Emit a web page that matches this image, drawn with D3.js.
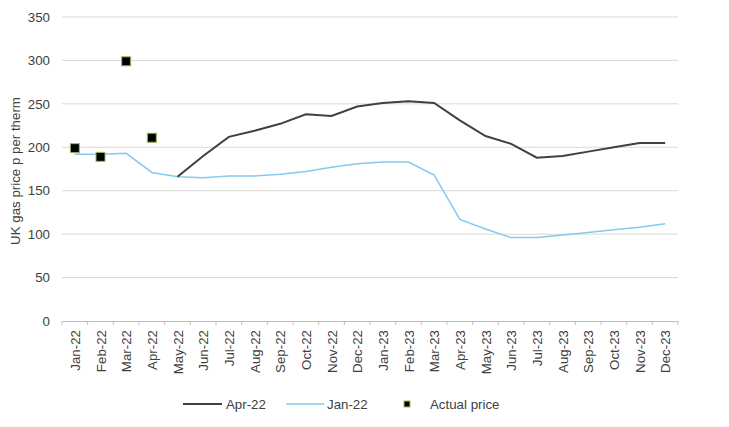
<!DOCTYPE html>
<html>
<head>
<meta charset="utf-8">
<script src="https://cdn.jsdelivr.net/npm/d3@7"></script>
<style>
  body { margin: 0; background: #fff; }
  text { font-family: "Liberation Sans", Arial, sans-serif; fill: #404040; font-size: 13.3px; }
</style>
</head>
<body>
<script>
// months on the x axis
const months = ["Jan-22","Feb-22","Mar-22","Apr-22","May-22","Jun-22","Jul-22","Aug-22","Sep-22","Oct-22","Nov-22","Dec-22",
  "Jan-23","Feb-23","Mar-23","Apr-23","May-23","Jun-23","Jul-23","Aug-23","Sep-23","Oct-23","Nov-23","Dec-23"];
// forward curve as of Apr-22 (starts May-22)
const apr22 = [null,null,null,null,166,190,212,219,227,238,236,247,251,253,251,231,213,204,188,190,195,200,205,205];
// forward curve as of Jan-22
const jan22 = [192,192,193,171,166,165,167,167,169,172,177,181,183,183,168,117,106,96,96,99,102,105,108,112];
// actual price
const actual = [199,189,299,211,null,null,null,null,null,null,null,null,null,null,null,null,null,null,null,null,null,null,null,null];
const yTicks = [0,50,100,150,200,250,300,350];

const W = 729, H = 427;
const m = {left: 62, right: 51, top: 17, bottom: 106};

const svg = d3.select("body").append("svg").attr("width", W).attr("height", H);

const x = d3.scaleBand().domain(months).range([m.left, W - m.right]);
const y = d3.scaleLinear().domain([0, 350]).range([H - m.bottom, m.top]);
const cx = d => x(d) + x.bandwidth() / 2;

// gridlines
svg.append("g").selectAll("line").data(yTicks.filter(t => t > 0)).enter().append("line")
  .attr("x1", m.left).attr("x2", W - m.right)
  .attr("y1", d => y(d)).attr("y2", d => y(d))
  .attr("stroke", "#d9d9d9").attr("stroke-width", 1);

// y tick labels
svg.append("g").selectAll("text").data(yTicks).enter().append("text")
  .attr("x", m.left - 12).attr("y", d => y(d)).attr("dy", "0.35em")
  .attr("text-anchor", "end").text(d => d);

// x axis
const xAxis = svg.append("g").attr("transform", `translate(0,${y(0)})`)
  .call(d3.axisBottom(x).tickSize(0).tickFormat(""));
xAxis.select(".domain").attr("stroke", "#bfbfbf");
// boundary tick marks
svg.append("g").selectAll("line").data(d3.range(months.length + 1)).enter().append("line")
  .attr("x1", i => m.left + i * x.step()).attr("x2", i => m.left + i * x.step())
  .attr("y1", y(0)).attr("y2", y(0) + 4).attr("stroke", "#bfbfbf");

svg.append("g").selectAll("text").data(months).enter().append("text")
  .attr("transform", d => `translate(${cx(d) + 5},${y(0) + 9}) rotate(-90)`)
  .attr("text-anchor", "end").text(d => d);

// y axis title
svg.append("text")
  .attr("transform", `translate(20,171) rotate(-90)`)
  .attr("text-anchor", "middle")
  .text("UK gas price p per therm");

const line = d3.line().defined(d => d.v != null).x(d => cx(d.m)).y(d => y(d.v));
const toPts = arr => arr.map((v, i) => ({m: months[i], v: v}));

svg.append("path").datum(toPts(jan22)).attr("d", line)
  .attr("fill", "none").attr("stroke", "#86c9ef").attr("stroke-width", 1.5);
svg.append("path").datum(toPts(apr22)).attr("d", line)
  .attr("fill", "none").attr("stroke", "#404040").attr("stroke-width", 2);

svg.append("g").selectAll("rect").data(toPts(actual).filter(d => d.v != null)).enter().append("rect")
  .attr("x", d => cx(d.m) - 4.5).attr("y", d => y(d.v) - 4.5)
  .attr("width", 9).attr("height", 9)
  .attr("fill", "#000").attr("stroke", "#9bbb59").attr("stroke-width", 1);

// legend
const leg = svg.append("g").attr("transform", "translate(0,404)");
leg.append("line").attr("x1", 183).attr("x2", 222).attr("stroke", "#404040").attr("stroke-width", 2);
leg.append("text").attr("x", 226).attr("dy", "0.35em").text("Apr-22");
leg.append("line").attr("x1", 286).attr("x2", 324).attr("stroke", "#86c9ef").attr("stroke-width", 1.5);
leg.append("text").attr("x", 327).attr("dy", "0.35em").text("Jan-22");
leg.append("rect").attr("x", 404).attr("y", -3).attr("width", 6).attr("height", 6)
  .attr("fill", "#000").attr("stroke", "#9bbb59").attr("stroke-width", 1);
leg.append("text").attr("x", 430).attr("dy", "0.35em").text("Actual price");
</script>
</body>
</html>
